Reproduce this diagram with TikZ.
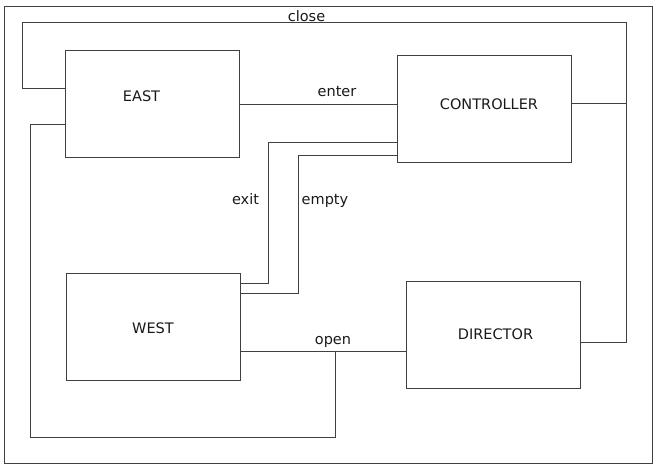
\documentclass[tikz,border=0pt]{standalone}
\usepackage{fontspec}
\setmainfont{DejaVu Sans}
\usepackage{tikz}

\begin{document}
\begin{tikzpicture}[x=1pt, y=-1pt,
    	block/.style={draw=black!75, line width=1pt, minimum width=174pt, minimum height=107pt, inner sep=0pt},
    	wire/.style={draw=black!75, line width=1pt},
    	txt/.style={anchor=base, inner sep=0pt, font=\fontsize{14.5}{17}\selectfont, text=black!90}]
    	\useasboundingbox (-0.5, -0.5) rectangle (661.5, 471.5);
    	% Frame:
    	\draw[wire] (4, 6) rectangle (652, 463);
    	% Blocks:
    	\draw node[block] (east) at (152, 103.5) {};
    	\draw node[block] (controller) at (484, 108.5) {};
    	\draw node[block] (west) at (153, 326.5) {};
    	\draw node[block] (director) at (493, 334.5) {};
    	\draw node[txt] (eastlbl) at (141, 101) {EAST};
    	\draw node[txt] (controllerlbl) at (488.5, 109) {CONTROLLER};
    	\draw node[txt] (westlbl) at (152.5, 333) {WEST};
    	\draw node[txt] (directorlbl) at (495, 339) {DIRECTOR};
    	% Bends:
    	\coordinate (closeleft) at (22, 22);
    	\coordinate (closeright) at (626, 22);
    	\coordinate (exitbend) at (268, 200);
    	\coordinate (emptybend) at (298, 200);
    	\coordinate (openbranch) at (335, 351);
    	\coordinate (loopcorner) at (30, 437);
    	% Paths and wires:
    	\draw[wire] ([yshift=15.5pt]east.west) -| (closeleft) -- (closeright) |- ([yshift=-7.5pt]director.east);
    	\draw[wire] ([yshift=5.5pt]controller.east) -- ([yshift=5.5pt]controller.east -| closeright);
    	\draw[wire] (east.east) -- (east.east -| controller.west);
    	\draw[wire] ([yshift=-33.5pt]controller.west) -| (exitbend) |- ([yshift=43.5pt]west.east);
    	\draw[wire] ([yshift=-46.5pt]controller.west) -| (emptybend) |- ([yshift=33.5pt]west.east);
    	\draw[wire] ([yshift=-24.5pt]west.east) -- ([yshift=-24.5pt]west.east -| director.west);
    	\draw[wire] (openbranch) |- (loopcorner) |- ([yshift=-20.5pt]east.west);
    	% Labels:
    	\draw node[txt] (closelbl) at (306, 21) {close};
    	\draw node[txt] (enterlbl) at (336.5, 96) {enter};
    	\draw node[txt] (exitlbl) at (245, 204) {exit};
    	\draw node[txt] (emptylbl) at (324.5, 204) {empty};
    	\draw node[txt] (openlbl) at (332.5, 344) {open};
\end{tikzpicture}
\end{document}
